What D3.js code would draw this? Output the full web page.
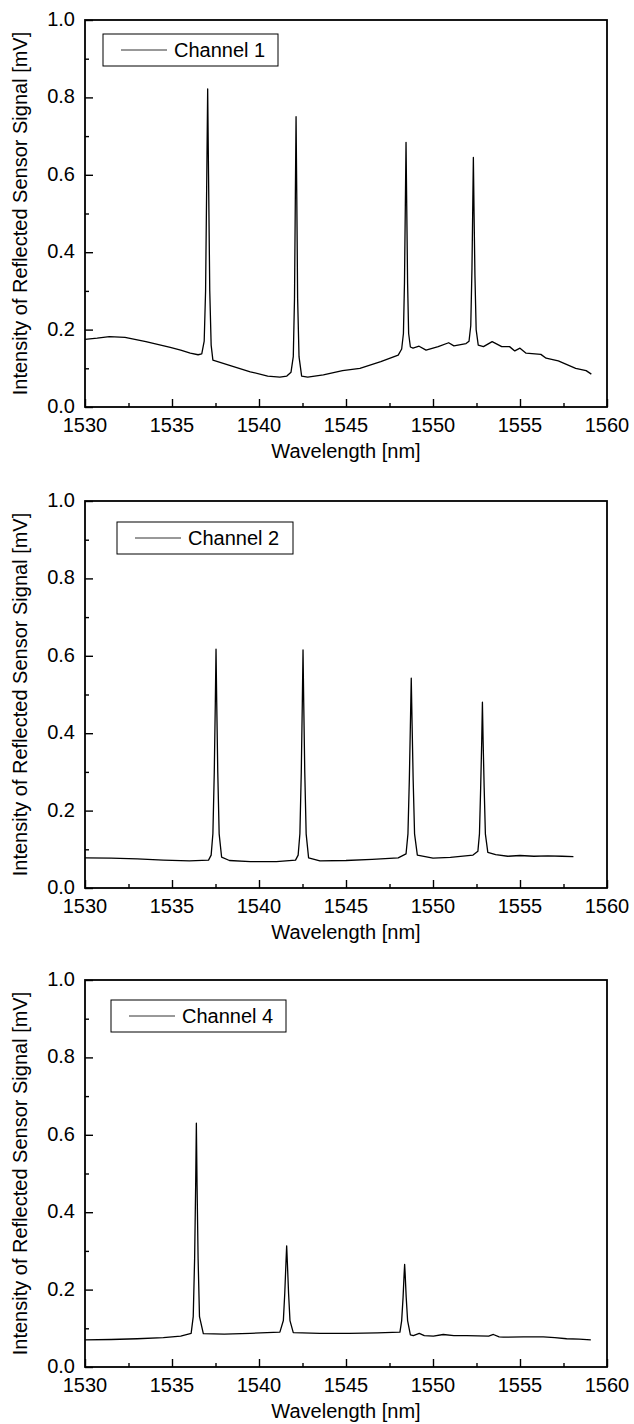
<!DOCTYPE html>
<html>
<head>
<meta charset="utf-8">
<script src="https://cdn.jsdelivr.net/npm/d3@7"></script>
<style>
  html, body { margin: 0; padding: 0; background: #fff; overflow: hidden; }
  svg { display: block; }
</style>
</head>
<body>
<script>
// values
const ch1Wavelength = [1530.0, 1530.7, 1531.4, 1532.3, 1533.5, 1534.9, 1535.5, 1536.05, 1536.5, 1536.71, 1536.85, 1536.93, 1537.0, 1537.05, 1537.1, 1537.17, 1537.25, 1537.35, 1538.4, 1539.5, 1540.5, 1541.2, 1541.6, 1541.84, 1541.97, 1542.04, 1542.09, 1542.13, 1542.17, 1542.22, 1542.3, 1542.45, 1542.8, 1543.7, 1544.8, 1545.8, 1547.0, 1548.0, 1548.2, 1548.3, 1548.36, 1548.41, 1548.45, 1548.49, 1548.54, 1548.6, 1548.7, 1548.85, 1549.2, 1549.6, 1550.3, 1550.9, 1551.2, 1551.9, 1552.07, 1552.17, 1552.24, 1552.28, 1552.32, 1552.36, 1552.41, 1552.48, 1552.6, 1552.9, 1553.4, 1553.95, 1554.4, 1554.7, 1555.0, 1555.35, 1556.2, 1556.5, 1557.2, 1558.2, 1558.8, 1559.1];
const ch1Intensity = [0.175, 0.178, 0.182, 0.18, 0.169, 0.154, 0.147, 0.139, 0.135, 0.137, 0.17, 0.3, 0.6, 0.822, 0.6, 0.3, 0.16, 0.121, 0.106, 0.091, 0.08, 0.077, 0.08, 0.09, 0.13, 0.28, 0.55, 0.75, 0.55, 0.28, 0.13, 0.08, 0.077, 0.083, 0.094, 0.1, 0.117, 0.134, 0.15, 0.19, 0.32, 0.52, 0.684, 0.52, 0.32, 0.19, 0.155, 0.152, 0.157, 0.147, 0.156, 0.166, 0.158, 0.164, 0.17, 0.21, 0.36, 0.5, 0.645, 0.5, 0.34, 0.2, 0.16, 0.156, 0.169, 0.156, 0.156, 0.145, 0.152, 0.139, 0.136, 0.126, 0.119, 0.1, 0.094, 0.085];

const ch2Wavelength = [1530.0, 1531.5, 1533.0, 1534.5, 1536.0, 1537.1, 1537.25, 1537.35, 1537.43, 1537.49, 1537.53, 1537.57, 1537.63, 1537.71, 1537.85, 1538.3, 1539.5, 1541.0, 1542.1, 1542.25, 1542.35, 1542.43, 1542.49, 1542.53, 1542.57, 1542.63, 1542.71, 1542.85, 1543.5, 1545.0, 1546.5, 1548.0, 1548.45, 1548.56, 1548.64, 1548.7, 1548.75, 1548.8, 1548.86, 1548.94, 1549.1, 1550.0, 1551.0, 1552.3, 1552.58, 1552.67, 1552.74, 1552.8, 1552.84, 1552.88, 1552.94, 1553.01, 1553.15, 1553.6, 1554.3, 1555.0, 1555.8, 1556.6, 1557.4, 1558.07];
const ch2Intensity = [0.078, 0.077, 0.075, 0.072, 0.07, 0.072, 0.085, 0.14, 0.3, 0.48, 0.617, 0.48, 0.3, 0.14, 0.08, 0.071, 0.068, 0.068, 0.072, 0.085, 0.14, 0.3, 0.48, 0.615, 0.48, 0.3, 0.14, 0.078, 0.07, 0.071, 0.074, 0.078, 0.088, 0.14, 0.28, 0.42, 0.542, 0.42, 0.28, 0.14, 0.085, 0.077, 0.079, 0.085, 0.095, 0.14, 0.26, 0.38, 0.48, 0.38, 0.26, 0.14, 0.092, 0.086, 0.082, 0.084, 0.082, 0.083, 0.082, 0.081];

const ch4Wavelength = [1530.0, 1531.5, 1533.0, 1534.5, 1535.5, 1536.1, 1536.22, 1536.3, 1536.36, 1536.4, 1536.44, 1536.5, 1536.58, 1536.8, 1538.0, 1539.5, 1541.2, 1541.4, 1541.48, 1541.55, 1541.59, 1541.63, 1541.7, 1541.78, 1541.97, 1543.5, 1545.2, 1546.8, 1548.1, 1548.2, 1548.28, 1548.34, 1548.37, 1548.4, 1548.46, 1548.54, 1548.7, 1548.87, 1549.21, 1549.5, 1550.02, 1550.59, 1551.2, 1551.94, 1553.2, 1553.47, 1553.8, 1554.04, 1555.2, 1556.34, 1557.0, 1557.68, 1558.4, 1559.07];
const ch4Intensity = [0.07, 0.071, 0.073, 0.076, 0.08, 0.087, 0.13, 0.28, 0.47, 0.63, 0.47, 0.28, 0.13, 0.086, 0.085, 0.087, 0.09, 0.12, 0.19, 0.27, 0.313, 0.27, 0.19, 0.12, 0.089, 0.087, 0.087, 0.088, 0.09, 0.12, 0.18, 0.24, 0.265, 0.24, 0.18, 0.12, 0.083, 0.081, 0.087, 0.081, 0.08, 0.084, 0.081, 0.081, 0.08, 0.084, 0.078, 0.077, 0.078, 0.078, 0.076, 0.073, 0.072, 0.07];

const channelNames = ["Channel 1", "Channel 2", "Channel 4"];
const xDomain = [1530, 1560];
const yDomain = [0, 1];
const xMajorTicks = [1530, 1535, 1540, 1545, 1550, 1555, 1560];
const xMinorTicks = [1532.5, 1537.5, 1542.5, 1547.5, 1552.5, 1557.5];
const yMajorTicks = [0, 0.2, 0.4, 0.6, 0.8, 1.0];
const yMinorTicks = [0.1, 0.3, 0.5, 0.7, 0.9];
const xTitle = "Wavelength [nm]";
const yTitle = "Intensity of Reflected Sensor Signal [mV]";

const series = [
  { name: channelNames[0], x: ch1Wavelength, y: ch1Intensity },
  { name: channelNames[1], x: ch2Wavelength, y: ch2Intensity },
  { name: channelNames[2], x: ch4Wavelength, y: ch4Intensity },
];

// panel placement
const width = 634,
  height = 1424;
const panelTops = [20, 501, 980];
const legendBoxes = [
  { x: 18, y: 14, w: 175 },
  { x: 32, y: 21, w: 176 },
  { x: 26, y: 20, w: 175 },
];
const margin = { left: 85, right: 27 },
  innerWidth = width - margin.left - margin.right,
  innerHeight = 387;
const font = "Liberation Sans, Arial, sans-serif";

const svg = d3
  .select("body")
  .append("svg")
  .attr("width", width)
  .attr("height", height)
  .attr("font-family", font);

const xScale = d3.scaleLinear().domain(xDomain).range([0, innerWidth]);
const yScale = d3.scaleLinear().domain(yDomain).range([innerHeight, 0]);

const line = d3
  .line()
  .x((d) => xScale(d[0]))
  .y((d) => yScale(d[1]));

const fmtX = d3.format("d"),
  fmtY = d3.format(".1f");

series.forEach((s, i) => {
  const g = svg
    .append("g")
    .attr("transform", `translate(${margin.left},${panelTops[i]})`);

  // spectrum
  g.append("path")
    .datum(d3.zip(s.x, s.y))
    .attr("fill", "none")
    .attr("stroke", "#000")
    .attr("stroke-width", 1.3)
    .attr("stroke-linejoin", "round")
    .attr("d", line);

  // inward ticks, major and minor (labels drawn separately)
  const tickAxis = (axis, vals, size) =>
    axis.tickValues(vals).tickSizeInner(-size).tickSizeOuter(0).tickFormat("");

  [
    [xMinorTicks, 4],
    [xMajorTicks, 8],
  ].forEach(([vals, size]) => {
    g.append("g")
      .attr("transform", `translate(0,${innerHeight})`)
      .call(tickAxis(d3.axisBottom(xScale), vals, size))
      .call((a) => a.select(".domain").remove())
      .call((a) => a.selectAll("text").remove());
  });
  [
    [yMinorTicks, 4],
    [yMajorTicks, 8],
  ].forEach(([vals, size]) => {
    g.append("g")
      .call(tickAxis(d3.axisLeft(yScale), vals, size))
      .call((a) => a.select(".domain").remove())
      .call((a) => a.selectAll("text").remove());
  });
  g.selectAll(".tick line").attr("stroke", "#000").attr("stroke-width", 1.4);

  // tick labels
  g.append("g")
    .selectAll("text")
    .data(xMajorTicks)
    .join("text")
    .attr("x", (d) => xScale(d))
    .attr("y", innerHeight + 25)
    .attr("text-anchor", "middle")
    .attr("font-size", 20)
    .text(fmtX);

  g.append("g")
    .selectAll("text")
    .data(yMajorTicks)
    .join("text")
    .attr("x", -10)
    .attr("y", (d) => yScale(d) + 6)
    .attr("text-anchor", "end")
    .attr("font-size", 20)
    .text(fmtY);

  // frame
  g.append("rect")
    .attr("width", innerWidth)
    .attr("height", innerHeight)
    .attr("fill", "none")
    .attr("stroke", "#000")
    .attr("stroke-width", 1.8);

  // axis titles
  g.append("text")
    .attr("x", innerWidth / 2)
    .attr("y", innerHeight + 51)
    .attr("text-anchor", "middle")
    .attr("font-size", 20)
    .text(xTitle);

  g.append("text")
    .attr("transform", `translate(${27 - margin.left},${innerHeight / 2}) rotate(-90)`)
    .attr("text-anchor", "middle")
    .attr("font-size", 20)
    .text(yTitle);

  // legend
  const lb = legendBoxes[i];
  const lg = g.append("g").attr("transform", `translate(${lb.x},${lb.y})`);
  lg.append("rect")
    .attr("width", lb.w)
    .attr("height", 32)
    .attr("fill", "#fff")
    .attr("stroke", "#000")
    .attr("stroke-width", 1);
  lg.append("line")
    .attr("x1", 18)
    .attr("x2", 64)
    .attr("y1", 16)
    .attr("y2", 16)
    .attr("stroke", "#333")
    .attr("stroke-width", 1);
  lg.append("text")
    .attr("x", 71)
    .attr("y", 23)
    .attr("font-size", 20)
    .text(s.name);
});
</script>
</body>
</html>
